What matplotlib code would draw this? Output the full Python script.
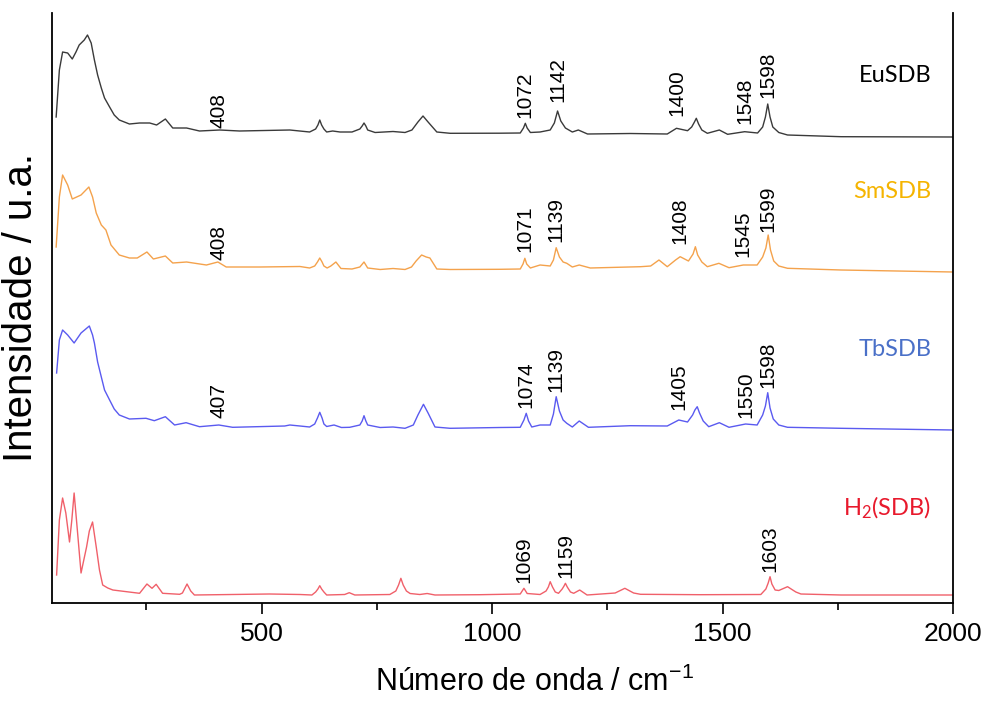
import numpy as np
import matplotlib
matplotlib.use('Agg')
import matplotlib.pyplot as plt

plt.rcParams['mathtext.default'] = 'regular'

# spectra: wavenumber (cm-1) and intensity (a.u.)
eu_x = [54, 61, 68, 79, 89, 97, 104, 115, 122, 130, 137, 144, 152, 159, 170, 180, 191, 213, 235, 257,
        272, 291, 307, 337, 365, 409, 452, 561, 604, 617, 622, 626, 630, 635, 641, 654, 670, 696, 713,
        718, 722, 726, 730, 746, 785, 811, 826, 839, 850, 861, 880, 909, 1017, 1061, 1068, 1072, 1076,
        1083, 1104, 1126, 1135, 1142, 1149, 1159, 1174, 1187, 1207, 1300, 1380, 1400, 1424, 1433, 1439,
        1443, 1448, 1455, 1467, 1493, 1511, 1548, 1576, 1587, 1593, 1598, 1603, 1609, 1622, 1641, 1757,
        2000]
eu_y = [20, 67, 85, 84, 78, 85, 92, 97, 102, 94, 77, 62, 49, 39, 30, 22, 17, 13, 14, 14,
        12, 18, 9, 9, 6, 7, 6, 7, 5, 8, 12, 17, 12, 8, 5, 6, 5, 5, 8,
        11, 14, 11, 7, 4.5, 5.5, 4.5, 7, 15, 21, 15, 5, 3.7, 3.8, 4, 9, 13.7, 9,
        4.5, 5, 7, 14, 26, 16, 9, 5, 7, 3, 3.5, 3, 8.7, 6.3, 10, 15,
        18.7, 13, 7, 3.7, 7, 2.7, 5.3, 4, 10, 20, 33, 20, 10, 4.5, 2, 0.3,
        0]

sm_x = [54, 61, 68, 79, 89, 108, 125, 133, 141, 152, 162, 173, 191, 213, 230, 251, 265, 291, 307, 337,
        380, 405, 423, 496, 583, 604, 615, 621, 626, 631, 635, 642, 650, 661, 672, 696, 713, 722, 730,
        757, 785, 811, 825, 835, 847, 857, 865, 880, 909, 1017, 1061, 1067, 1071, 1075, 1083, 1104, 1126,
        1133, 1139, 1146, 1154, 1162, 1174, 1189, 1213, 1322, 1344, 1362, 1380, 1398, 1408, 1426, 1436,
        1441, 1446, 1455, 1467, 1492, 1514, 1545, 1575, 1587, 1594, 1599, 1604, 1611, 1622, 1641, 1757,
        2000]
sm_y = [25, 75, 97, 87, 73, 77, 85, 75, 59, 47, 42, 27, 17, 14, 14, 20, 13, 16, 9, 10,
        7, 10, 5, 5, 5.5, 4, 6, 10, 14, 10, 6, 4, 6, 10, 3.5, 3, 5, 10, 4,
        2.5, 3.5, 2.5, 5, 11, 17, 15, 14, 3, 2.5, 2.7, 3, 8, 13.7, 8, 4, 7, 6,
        12, 24.3, 15, 10, 8.7, 5, 7, 4, 5.3, 6, 12, 5.3, 12, 15.3, 11, 18,
        25.3, 17, 10, 5.3, 8.7, 4.3, 7, 7, 15, 24, 37, 22, 11, 6, 3.7, 2,
        0]

tb_x = [55, 61, 68, 79, 93, 108, 126, 133, 137, 144, 152, 159, 170, 180, 191, 213, 249, 267, 291, 311,
        336, 365, 407, 437, 550, 561, 583, 604, 615, 621, 626, 631, 635, 641, 657, 673, 691, 713, 718,
        722, 726, 730, 757, 785, 811, 829, 839, 851, 861, 876, 909, 1017, 1061, 1069, 1074, 1079, 1086,
        1104, 1126, 1133, 1139, 1146, 1154, 1162, 1174, 1189, 1209, 1300, 1380, 1405, 1424, 1435, 1440,
        1445, 1450, 1458, 1470, 1493, 1514, 1550, 1575, 1587, 1593, 1598, 1603, 1610, 1622, 1641, 1757,
        2000]
tb_y = [57, 90, 100, 95, 87, 97, 104, 95, 87, 68, 53, 40, 30, 21, 15, 11, 11.7, 9.3, 13.3, 5,
        7.3, 3.3, 5, 2.7, 4, 5, 4, 3, 6, 12, 17.7, 12, 6, 3.5, 5, 2.5, 2.7, 5, 9,
        14.3, 9, 5, 2.5, 3, 1.7, 5, 15, 25.7, 17, 3, 1.7, 2.5, 2.7, 10, 16.7, 9, 3,
        5, 5, 16, 33.3, 19, 10, 6.7, 3, 9, 2.7, 4.3, 4, 10, 8, 15, 20,
        23.3, 17, 9, 3.3, 7.3, 2.7, 6, 5, 15, 24, 37.3, 22, 11, 5, 2.7, 1.7,
        0]

h2_x = [55, 61, 68, 75, 83, 88, 93, 100, 108, 120, 126, 133, 141, 148, 155, 166, 177, 235, 251, 262,
        271, 285, 322, 328, 338, 346, 354, 517, 583, 609, 617, 622, 626, 630, 635, 641, 680, 690, 702,
        778, 791, 797, 802, 807, 814, 822, 843, 859, 876, 974, 1061, 1069, 1076, 1104, 1117, 1122, 1126,
        1131, 1137, 1144, 1152, 1156, 1159, 1163, 1170, 1177, 1190, 1206, 1267, 1288, 1307, 1322, 1452,
        1583, 1594, 1599, 1603, 1607, 1614, 1622, 1641, 1659, 1670, 1757, 2000]
h2_y = [20, 75, 97, 82, 53, 75, 102, 65, 22, 48, 64, 73, 48, 25, 10, 7, 5, 1.7, 11, 6.7,
        10.7, 1.7, 0.7, 2, 11, 4, 0, 1, 0.5, 0, 3, 6, 9.3, 6, 3, 0, 0.5, 2.3, 0,
        0.5, 4, 10, 16.7, 10, 4, 1.5, 0.5, 1.5, 0, 0.3, 1, 6.7, 1.5, 0.5, 4, 8, 13.3,
        8, 3, 1.7, 6, 9, 11.7, 8, 3, 1.7, 5, 0, 2, 6.7, 2, 0.7, 0.3,
        0.5, 6, 12, 18.3, 11, 5, 4.5, 8.3, 3, 1, 0, 0]

names = ['EuSDB', 'SmSDB', 'TbSDB', 'H$_2$(SDB)']
offsets = [466, 331, 173, 8]
line_colors = ['#3a3a3a', '#f4a24c', '#5a5af0', '#f0606a']
name_colors = ['#000000', '#f5b400', '#4a70c8', '#e8192c']
name_y = [62, 81, 81, 87]

# peak labels: (wavenumber, height above the curve's baseline)
eu_peaks = [(408, 9), (1072, 19), (1142, 35), (1400, 21), (1548, 13), (1598, 39)]
sm_peaks = [(408, 12), (1071, 20), (1139, 30), (1408, 28), (1545, 15), (1599, 40)]
tb_peaks = [(407, 12), (1074, 22), (1139, 38), (1405, 20), (1550, 12), (1598, 42)]
h2_peaks = [(1069, 12), (1159, 17), (1603, 23)]

spectra = [(eu_x, eu_y, eu_peaks), (sm_x, sm_y, sm_peaks), (tb_x, tb_y, tb_peaks), (h2_x, h2_y, h2_peaks)]

fig = plt.figure(figsize=(9.83, 7.05), dpi=100)
ax = fig.add_axes([52/983, 102/705, 901/983, 590/705])

for i, (xs, ys, peaks) in enumerate(spectra):
    ax.plot(xs, np.array(ys) + offsets[i], color=line_colors[i], lw=1.0)
    for wn, h in peaks:
        ax.text(wn, offsets[i] + h, str(wn), rotation=90, ha='center', va='bottom',
                fontsize=15, family='Liberation Sans')
    ax.text(1953, offsets[i] + name_y[i], names[i], color=name_colors[i], ha='right', va='center',
            fontsize=17, family='Lato')

ax.set_xlim(45, 2000)
ax.set_ylim(0, 590)
ax.set_xticks([500, 1000, 1500, 2000])
ax.set_xticks([250, 750, 1250, 1750], minor=True)
ax.set_yticks([])
ax.tick_params(axis='x', which='major', length=8, width=1.2, labelsize=19, pad=6)
ax.tick_params(axis='x', which='minor', length=5, width=1.2)
for lab in ax.get_xticklabels():
    lab.set_family(['Liberation Sans Narrow', 'Liberation Sans'])
ax.spines['top'].set_visible(False)
for s in ['left', 'bottom', 'right']:
    ax.spines[s].set_linewidth(1.3)

ax.set_xlabel('Número de onda / cm$^{-1}$', fontsize=22,
              family=['Liberation Sans Narrow', 'Liberation Sans'])
ax.xaxis.set_label_coords(0.535, -0.108)
ax.set_ylabel('Intensidade / u.a.', fontsize=29, family='Liberation Sans')
ax.yaxis.set_label_coords(-0.013, 0.5)

fig.savefig('out.png', dpi=100)
